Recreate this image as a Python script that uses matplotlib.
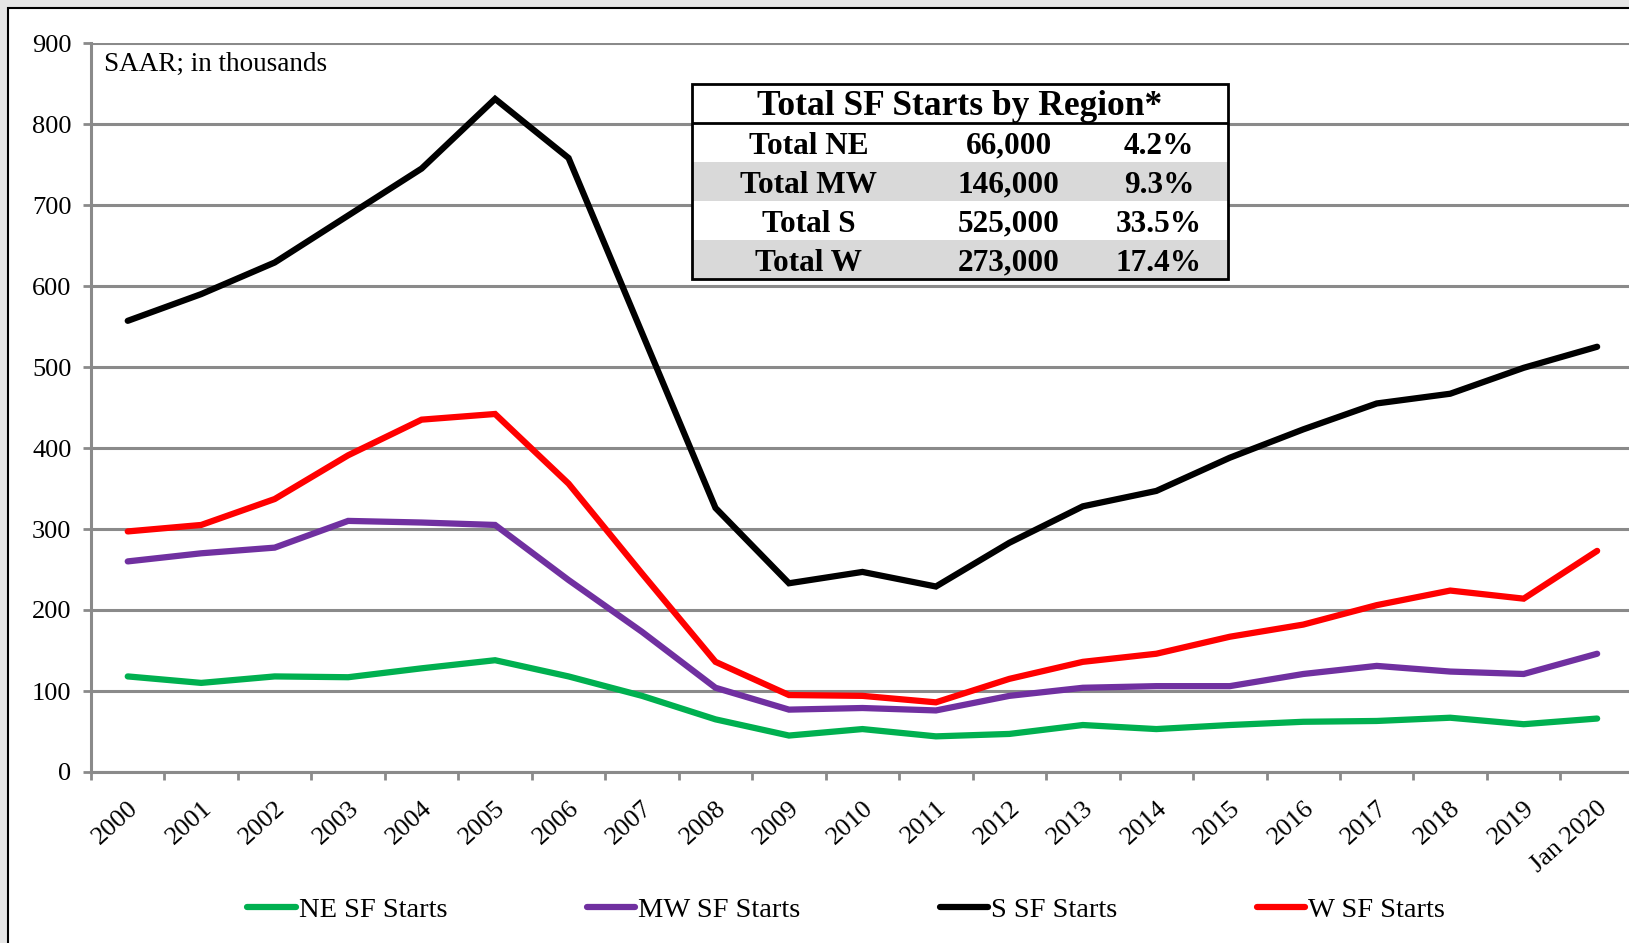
import matplotlib.pyplot as plt
from matplotlib.patches import Rectangle

plt.rcParams["font.family"] = ["Liberation Serif", "DejaVu Serif"]

years = ["2000", "2001", "2002", "2003", "2004", "2005", "2006", "2007", "2008", "2009",
         "2010", "2011", "2012", "2013", "2014", "2015", "2016", "2017", "2018", "2019",
         "Jan 2020"]

ne_starts = [118, 110, 118, 117, 128, 138, 118, 94, 65, 45, 53, 44, 47, 58, 53, 58, 62, 63, 67, 59, 66]
mw_starts = [260, 270, 277, 310, 308, 305, 237, 173, 104, 77, 79, 76, 94, 104, 106, 106, 121, 131, 124, 121, 146]
s_starts = [557, 590, 629, 687, 745, 831, 758, 542, 326, 233, 247, 229, 283, 328, 347, 388, 423, 455, 467, 499, 525]
w_starts = [297, 305, 337, 391, 435, 442, 356, 245, 136, 95, 94, 86, 115, 136, 146, 167, 182, 206, 224, 214, 273]

series_names = ["NE SF Starts", "MW SF Starts", "S SF Starts", "W SF Starts"]
series_colors = ["#00b050", "#7030a0", "#000000", "#ff0000"]

table_title = "Total SF Starts by Region*"
table_regions = ["Total NE", "Total MW", "Total S", "Total W"]
table_counts = ["66,000", "146,000", "525,000", "273,000"]
table_shares = ["4.2%", "9.3%", "33.5%", "17.4%"]

W, H = 1629, 943
fig = plt.figure(figsize=(W / 100, H / 100), dpi=100)
fig.patch.set_facecolor("#e6e6e6")
# white slide frame
fig.add_artist(Rectangle((8 / W, -0.1), 1.2, 1.1 - 8 / H, transform=fig.transFigure,
                         facecolor="white", edgecolor="black", lw=1.5, zorder=-10))

ax = fig.add_axes([91 / W, 1 - 772 / H, (W - 91) / W + 0.003, (772 - 43) / H])
ax.set_facecolor("none")
x = list(range(len(years)))
for vals, name, col in zip([ne_starts, mw_starts, s_starts, w_starts], series_names, series_colors):
    ax.plot(x, vals, color=col, lw=4.5, label=name, solid_capstyle="round", solid_joinstyle="miter")

ax.set_xlim(-0.5, len(years) - 0.5)
ax.set_ylim(0, 900)
ax.set_yticks(range(0, 901, 100))
ax.yaxis.grid(True, color="#8a8a8a", lw=2.2)
ax.set_axisbelow(True)
for sp in ["top", "right"]:
    ax.spines[sp].set_visible(False)
for sp in ["left", "bottom"]:
    ax.spines[sp].set_color("#8a8a8a")
    ax.spines[sp].set_linewidth(2.2)

ax.set_xticks([i - 0.5 for i in range(len(years) + 1)])
ax.set_xticklabels([])
ax.set_xticks(x, minor=True)
ax.set_xticklabels(years, minor=True, rotation=42, ha="right", rotation_mode="anchor", fontsize=19)
ax.tick_params(axis="x", which="major", length=6, width=2, color="#8a8a8a")
ax.tick_params(axis="x", which="minor", length=0, pad=18)
ax.tick_params(axis="y", length=6, width=2, color="#8a8a8a", labelsize=19, pad=8)

ax.text(0.0084, 0.9616, "SAAR; in thousands", transform=ax.transAxes, fontsize=19.5, va="baseline")

fig.legend(loc="center", bbox_to_anchor=(846 / W, 1 - 910 / H), ncol=4, frameon=False,
           fontsize=20.5, handlelength=1.7, handletextpad=0.1, columnspacing=4.9)

# summary table
tax = fig.add_axes([692 / W, 1 - 279 / H, 536 / W, 195 / H])
tax.set_xlim(0, 1)
tax.set_ylim(0, 5)
tax.axis("off")
tax.add_patch(Rectangle((0, 0), 1, 5, facecolor="white", edgecolor="none"))
for i in range(len(table_regions)):
    yc = 3.5 - i
    if i % 2 == 1:
        tax.add_patch(Rectangle((0, yc - 0.5), 1, 1, facecolor="#d9d9d9", edgecolor="none"))
    tax.text(0.218, yc - 0.1, table_regions[i], ha="center", va="center", fontsize=22.5, fontweight="bold")
    tax.text(0.591, yc - 0.1, table_counts[i], ha="center", va="center", fontsize=22.5, fontweight="bold")
    tax.text(0.871, yc - 0.1, table_shares[i], ha="center", va="center", fontsize=22.5, fontweight="bold")
tax.text(0.5, 4.42, table_title, ha="center", va="center", fontsize=25.5, fontweight="bold")
tax.plot([0, 1], [4, 4], color="black", lw=2)
tax.add_patch(Rectangle((0, 0), 1, 5, facecolor="none", edgecolor="black", lw=2, clip_on=False))

fig.savefig("out.png", dpi=100, facecolor=fig.get_facecolor())
